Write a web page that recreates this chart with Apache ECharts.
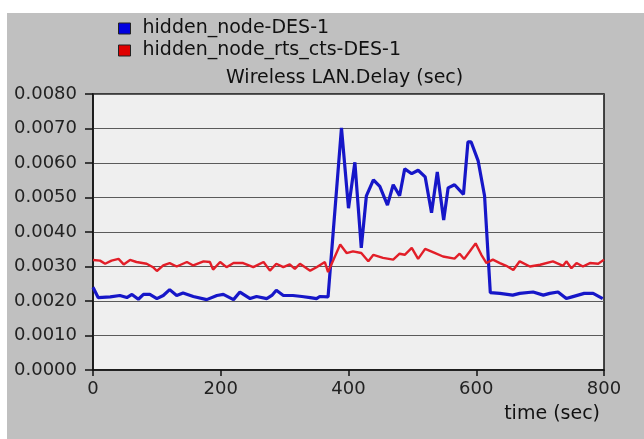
<!DOCTYPE html>
<html>
<head>
<meta charset="utf-8">
<script src="https://cdn.jsdelivr.net/npm/echarts@6/dist/echarts.min.js"></script>
<style>
  html, body { margin: 0; padding: 0; background: #ffffff; }
  #panel { position: absolute; left: 7px; top: 13px; width: 637px; height: 426px; background: #c0c0c0; }
  #chart { position: absolute; left: 0; top: 0; width: 644px; height: 439px; }
</style>
</head>
<body>
<div id="panel"></div>
<div id="chart"></div>
<script>
const chartTitle = 'Wireless LAN.Delay (sec)';
const seriesNames = ['hidden_node-DES-1', 'hidden_node_rts_cts-DES-1'];
const xAxisTitle = 'time (sec)';

const blueTime = [0, 8, 27, 42, 53, 61, 71, 79, 89, 100, 110, 120, 131, 141, 157, 178, 194, 204, 220, 230,
  246, 256, 272, 280, 287, 298, 313, 327, 340, 350, 355, 368,
  389, 400, 410, 420, 428, 439, 449, 461, 470, 480, 488, 499, 509, 520, 530, 539, 549, 556, 566, 580,
  587, 592, 603, 613, 622, 637, 657, 668, 689, 705, 715, 728, 741, 750, 769, 783, 798];
const blueDelay = [0.00240, 0.00210, 0.00212, 0.00216, 0.00210, 0.00219, 0.00205, 0.00219, 0.00219, 0.00207,
  0.00216, 0.00233, 0.00216, 0.00223, 0.00213, 0.00204, 0.00216, 0.00219, 0.00204, 0.00226,
  0.00207, 0.00213, 0.00207, 0.00216, 0.00231, 0.00216, 0.00216, 0.00213, 0.00210, 0.00207, 0.00213, 0.00212,
  0.00702, 0.00469, 0.00602, 0.00354, 0.00505, 0.00551, 0.00532, 0.00478, 0.00537, 0.00505, 0.00583,
  0.00569, 0.00579, 0.00560, 0.00456, 0.00574, 0.00435, 0.00528, 0.00537, 0.00509,
  0.00661, 0.00661, 0.00606, 0.00505, 0.00224, 0.00222, 0.00217, 0.00222, 0.00226, 0.00217, 0.00222,
  0.00226, 0.00207, 0.00212, 0.00222, 0.00222, 0.00207];

const redTime = [0, 11, 19, 29, 40, 48, 58, 68, 84, 94, 100, 110, 120, 131, 147, 157, 173, 183, 188, 199,
  209, 220, 235, 251, 267, 277, 287, 298, 308, 316, 324, 340, 350, 363, 368,
  387, 397, 407, 420, 431, 439, 454, 470, 480, 488, 499, 509, 520, 533, 548, 566, 574, 581, 590, 599,
  608, 616, 626, 637, 647, 658, 668, 684, 700, 720, 736, 741, 749, 757, 767, 778, 791, 800];
const redDelay = [0.00319, 0.00317, 0.00308, 0.00317, 0.00322, 0.00306, 0.00319, 0.00313, 0.00308, 0.00298,
  0.00287, 0.00303, 0.00310, 0.00300, 0.00313, 0.00303, 0.00315, 0.00313, 0.00291, 0.00313,
  0.00298, 0.00310, 0.00310, 0.00298, 0.00313, 0.00288, 0.00308, 0.00298, 0.00306, 0.00293, 0.00308,
  0.00288, 0.00298, 0.00313, 0.00284,
  0.00364, 0.00339, 0.00344, 0.00339, 0.00315, 0.00334, 0.00325, 0.00320, 0.00337, 0.00334, 0.00354,
  0.00322, 0.00351, 0.00341, 0.00329, 0.00323, 0.00337, 0.00322, 0.00344, 0.00367,
  0.00334, 0.00310, 0.00320, 0.00310, 0.00302, 0.00290, 0.00315, 0.00300, 0.00305, 0.00315, 0.00302,
  0.00315, 0.00295, 0.00310, 0.00300, 0.00310, 0.00308, 0.00320];

const xTicks = [0, 200, 400, 600, 800];
const yTickLabels = ['0.0000', '0.0010', '0.0020', '0.0030', '0.0040', '0.0050', '0.0060', '0.0070', '0.0080'];

const FONT = 'DejaVu Sans';
const pairs = (t, v) => t.map((x, i) => [x, v[i]]);

const chart = echarts.init(document.getElementById('chart'), null, { renderer: 'canvas' });
chart.setOption({
  animation: false,
  backgroundColor: 'transparent',
  title: {
    text: chartTitle,
    left: 226, top: 69, padding: 0,
    textStyle: { fontFamily: FONT, fontSize: 19, fontWeight: 'normal', color: '#111', lineHeight: 19 }
  },
  legend: {
    orient: 'vertical',
    left: 118, top: 19, padding: 0,
    itemWidth: 12, itemHeight: 11, itemGap: 3,
    icon: 'rect',
    itemStyle: { borderColor: '#222', borderWidth: 1 },
    textStyle: { fontFamily: FONT, fontSize: 19, color: '#111', lineHeight: 19, padding: [0, 0, 0, 7] },
    data: seriesNames
  },
  grid: {
    left: 93, right: 40, top: 94, bottom: 69,
    show: true, backgroundColor: '#efefef', borderColor: '#111', borderWidth: 1.5
  },
  xAxis: {
    type: 'value', min: 0, max: 800, interval: 200,
    axisLine: { show: true, onZero: false, lineStyle: { color: '#111', width: 1.5 } },
    axisTick: { show: true, length: 6, inside: false, lineStyle: { color: '#111', width: 1.5 } },
    splitLine: { show: false },
    axisLabel: {
      fontFamily: FONT, fontSize: 18, color: '#222', margin: 10,
      formatter: v => (xTicks.indexOf(v) >= 0 ? String(v) : '')
    }
  },
  yAxis: {
    type: 'value', min: 0, max: 0.008, interval: 0.001,
    axisLine: { show: true, lineStyle: { color: '#111', width: 1.5 } },
    axisTick: { show: true, length: 8, lineStyle: { color: '#111', width: 1.5 } },
    splitLine: { show: true, lineStyle: { color: '#5a5a5a', width: 1 } },
    axisLabel: {
      fontFamily: FONT, fontSize: 18, color: '#222', margin: 16,
      formatter: v => yTickLabels[Math.round(v / 0.001)]
    }
  },
  graphic: [{
    type: 'text', x: 600, y: 414,
    style: { text: xAxisTitle, font: '19px "DejaVu Sans"', fill: '#111', textAlign: 'right', textVerticalAlign: 'middle' }
  }],
  series: [
    {
      name: seriesNames[0], type: 'line', showSymbol: false, symbol: 'none',
      data: pairs(blueTime, blueDelay),
      itemStyle: { color: '#0000e0' },
      lineStyle: { color: '#1616c8', width: 3.2 }
    },
    {
      name: seriesNames[1], type: 'line', showSymbol: false, symbol: 'none',
      data: pairs(redTime, redDelay),
      itemStyle: { color: '#e00000' },
      lineStyle: { color: '#e21e28', width: 2.4 }
    }
  ]
});
</script>
</body>
</html>
